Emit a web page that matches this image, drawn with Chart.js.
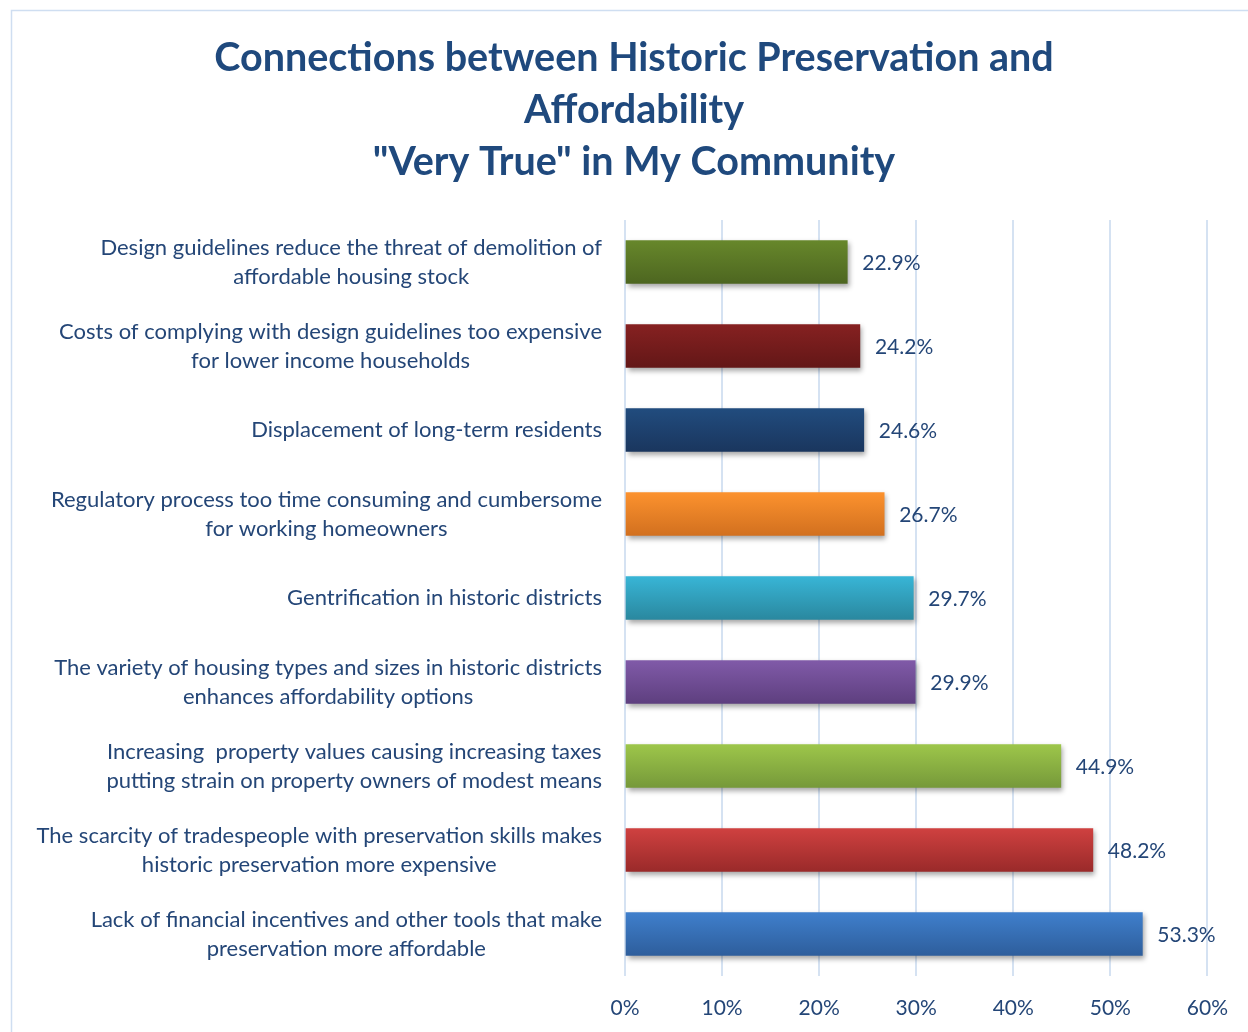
<!DOCTYPE html>
<html>
<head>
<meta charset="utf-8">
<script src="https://cdn.jsdelivr.net/npm/chart.js@4.4.1/dist/chart.umd.min.js"></script>
<style>
  html, body { margin: 0; padding: 0; background: #fff; }
  #wrap { width: 1248px; height: 1032px; }
</style>
</head>
<body>
<div id="wrap"><canvas id="hpChart" width="1248" height="1032"></canvas></div>
<script>
const categories = [
  ['Design guidelines reduce the threat of demolition of', 'affordable housing stock'],
  ['Costs of complying with design guidelines too expensive', 'for lower income households'],
  ['Displacement of long-term residents'],
  ['Regulatory process too time consuming and cumbersome', 'for working homeowners'],
  ['Gentrification in historic districts'],
  ['The variety of housing types and sizes in historic districts', 'enhances affordability options'],
  ['Increasing  property values causing increasing taxes', 'putting strain on property owners of modest means'],
  ['The scarcity of tradespeople with preservation skills makes', 'historic preservation more expensive'],
  ['Lack of financial incentives and other tools that make', 'preservation more affordable']
];
const veryTrue = [22.9, 24.2, 24.6, 26.7, 29.7, 29.9, 44.9, 48.2, 53.3];
const xTicks = [0, 10, 20, 30, 40, 50, 60];

// bar gradient colours, top and bottom of each bar
const topColors = ['#67872B', '#862121', '#214C7E', '#FC922E', '#38B5D6', '#805AA8', '#9DC64A', '#CF4140', '#3F7FCC'];
const bottomColors = ['#4D6620', '#631717', '#1A365E', '#D2701F', '#2A889F', '#5E3F7F', '#76993A', '#9A2A2A', '#2E5E9C'];

const textColor = '#244677';
const fontFamily = 'Lato, "Open Sans", sans-serif';
const BAR_H = 43;

document.addEventListener('DOMContentLoaded', function() {
  const ctx = document.getElementById('hpChart').getContext('2d');

  const barFill = (c) => {
    const chart = c.chart;
    const yScale = chart.scales.y;
    const i = c.dataIndex;
    if (!chart.chartArea || !yScale || i == null) return topColors[i || 0];
    const cy = yScale.getPixelForValue(i);
    const g = chart.ctx.createLinearGradient(0, cy - BAR_H / 2, 0, cy + BAR_H / 2);
    g.addColorStop(0, topColors[i]);
    g.addColorStop(1, bottomColors[i]);
    return g;
  };

  const framePlugin = {
    id: 'frame',
    beforeDraw(chart) {
      const c = chart.ctx;
      c.save();
      c.strokeStyle = '#CFDEF1';
      c.lineWidth = 1.5;
      c.strokeRect(11.5, 10.5, 1400, 1400);
      c.restore();
    }
  };

  const shadowPlugin = {
    id: 'barShadow',
    beforeDatasetsDraw(chart) {
      const c = chart.ctx;
      c.save();
      c.shadowColor = 'rgba(0,0,0,0.35)';
      c.shadowBlur = 5;
      c.shadowOffsetX = 2;
      c.shadowOffsetY = 3;
    },
    afterDatasetsDraw(chart) {
      chart.ctx.restore();
    }
  };

  // category labels: right-aligned blocks with centred lines, plus value labels
  const labelPlugin = {
    id: 'labels',
    afterDraw(chart) {
      const c = chart.ctx;
      const yScale = chart.scales.y;
      const xScale = chart.scales.x;
      c.save();
      c.font = '22px ' + fontFamily;
      c.fillStyle = textColor;
      c.textBaseline = 'middle';
      c.textAlign = 'center';
      const rightEdge = chart.chartArea.left - 23;
      categories.forEach((lines, i) => {
        const cy = yScale.getPixelForValue(i);
        const w = Math.max(...lines.map(l => c.measureText(l).width));
        const cx = rightEdge - w / 2;
        lines.forEach((l, k) => {
          c.fillText(l, cx, cy + (k - (lines.length - 1) / 2) * 29);
        });
      });
      c.font = '21px ' + fontFamily;
      c.textAlign = 'left';
      veryTrue.forEach((v, i) => {
        const cy = yScale.getPixelForValue(i);
        c.fillText(v.toFixed(1) + '%', xScale.getPixelForValue(v) + 15, cy + 1);
      });
      c.restore();
    }
  };

  new Chart(ctx, {
    type: 'bar',
    data: {
      labels: categories,
      datasets: [{
        label: '"Very True" in My Community',
        data: veryTrue,
        backgroundColor: barFill,
        borderWidth: 0,
        barThickness: BAR_H
      }]
    },
    options: {
      indexAxis: 'y',
      responsive: false,
      animation: false,
      layout: { padding: { left: 60, right: 40, top: 10, bottom: 0 } },
      plugins: {
        legend: { display: false },
        tooltip: { enabled: false },
        title: {
          display: true,
          text: ['Connections between Historic Preservation and', 'Affordability', '"Very True" in My Community'],
          color: '#1F497D',
          font: { family: fontFamily, size: 39.5, weight: 'bold', lineHeight: 52 / 39.5 },
          padding: { top: 22, bottom: 32 }
        }
      },
      scales: {
        x: {
          min: 0,
          max: 60,
          afterBuildTicks: (scale) => { scale.ticks = xTicks.map(v => ({ value: v })); },
          afterFit: (scale) => { scale.height = 56; },
          grid: { color: '#D5E2F2', lineWidth: 2, drawTicks: false },
          border: { display: false },
          ticks: {
            padding: 20,
            color: textColor,
            font: { family: fontFamily, size: 21 },
            callback: (v) => v + '%'
          }
        },
        y: {
          afterFit: (scale) => { scale.width = 565; },
          grid: { display: false },
          border: { display: false },
          ticks: { display: false }
        }
      }
    },
    plugins: [framePlugin, shadowPlugin, labelPlugin]
  });
});
</script>
</body>
</html>
